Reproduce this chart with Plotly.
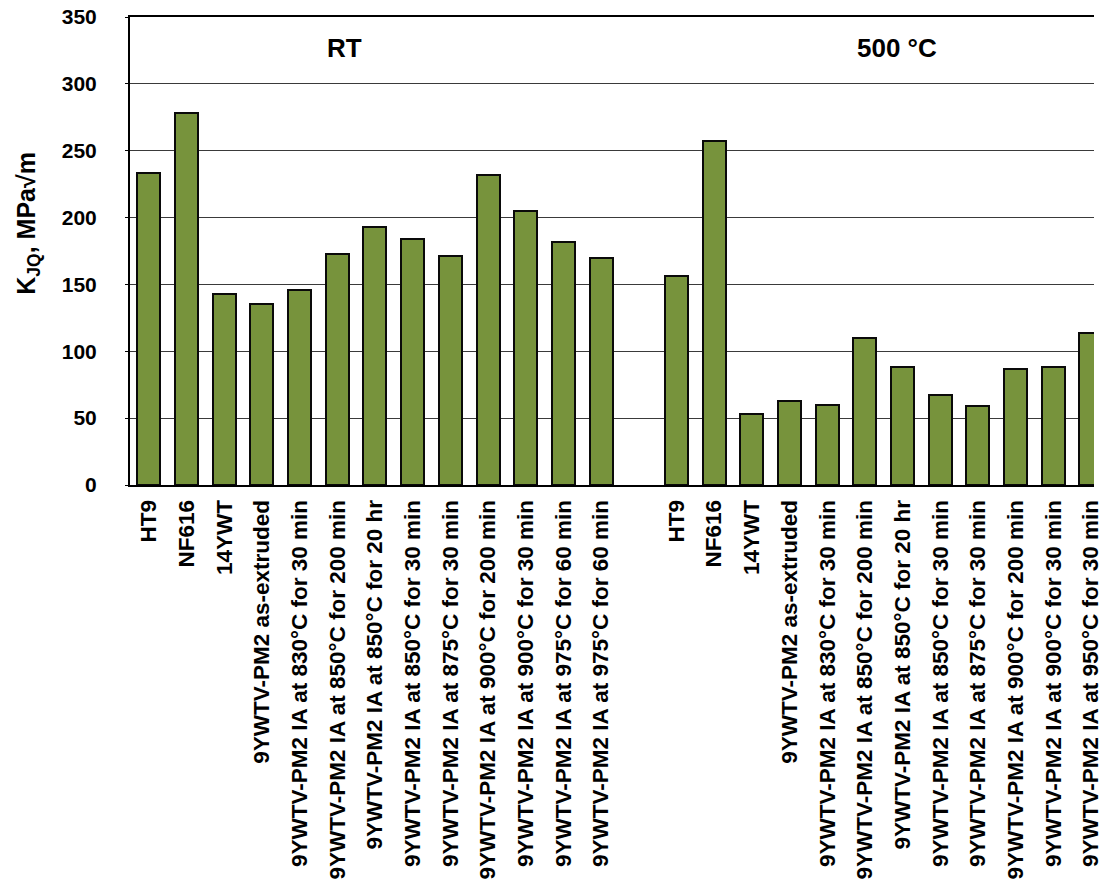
import plotly.graph_objects as go

# Fracture toughness K_JQ (MPa·√m) measured at room temperature and at 500 °C
rt_labels = [
    "HT9",
    "NF616",
    "14YWT",
    "9YWTV-PM2 as-extruded",
    "9YWTV-PM2 IA at 830°C for 30 min",
    "9YWTV-PM2 IA at 850°C for 200 min",
    "9YWTV-PM2 IA at 850°C for 20 hr",
    "9YWTV-PM2 IA at 850°C for 30 min",
    "9YWTV-PM2 IA at 875°C for 30 min",
    "9YWTV-PM2 IA at 900°C for 200 min",
    "9YWTV-PM2 IA at 900°C for 30 min",
    "9YWTV-PM2 IA at 975°C for 60 min",
    "9YWTV-PM2 IA at 975°C for 60 min",
]
rt_values = [233, 278, 143, 135, 146, 173, 193, 184, 171, 232, 205, 182, 170]

ht_labels = [
    "HT9",
    "NF616",
    "14YWT",
    "9YWTV-PM2 as-extruded",
    "9YWTV-PM2 IA at 830°C for 30 min",
    "9YWTV-PM2 IA at 850°C for 200 min",
    "9YWTV-PM2 IA at 850°C for 20 hr",
    "9YWTV-PM2 IA at 850°C for 30 min",
    "9YWTV-PM2 IA at 875°C for 30 min",
    "9YWTV-PM2 IA at 900°C for 200 min",
    "9YWTV-PM2 IA at 900°C for 30 min",
    "9YWTV-PM2 IA at 950°C for 30 min",
]
ht_values = [156, 257, 53, 63, 60, 110, 88, 67, 59, 87, 88, 114]

group_titles = ["RT", "500 °C"]
y_ticks = [0, 50, 100, 150, 200, 250, 300, 350]

# One empty slot separates the two temperature groups
rt_x = list(range(len(rt_values)))
ht_x = [len(rt_values) + 1 + i for i in range(len(ht_values))]
all_x = rt_x + ht_x
all_y = rt_values + ht_values
all_labels = rt_labels + ht_labels

FONT = "Liberation Sans, Arial, sans-serif"
BAR_COLOR = "#77933C"

fig = go.Figure()
fig.add_trace(go.Bar(
    x=all_x,
    y=all_y,
    width=0.61,
    marker=dict(color=BAR_COLOR, line=dict(color="#0a0a0a", width=2)),
    showlegend=False,
    hoverinfo="y",
))

fig.update_layout(
    width=1103,
    height=885,
    margin=dict(l=130, r=0, t=17, b=400),
    paper_bgcolor="white",
    plot_bgcolor="white",
    font=dict(family=FONT, color="black"),
    bargap=0,
)

fig.update_xaxes(
    range=[-0.5, 25.08],
    tickmode="array",
    tickvals=all_x,
    ticktext=all_labels,
    tickangle=-90,
    tickfont=dict(family=FONT, size=22.5, color="black", weight="bold"),
    ticks="",
    ticklabelstandoff=4,
    ticklabeloverflow="allow",
    showline=True,
    linecolor="black",
    linewidth=2,
    mirror=True,
    showgrid=False,
    zeroline=False,
)

fig.update_yaxes(
    range=[0, 350],
    tickmode="array",
    tickvals=y_ticks,
    tickfont=dict(family=FONT, size=21, color="black", weight="bold"),
    ticks="outside",
    ticklen=3,
    tickcolor="black",
    ticklabelstandoff=24,
    showline=True,
    linecolor="black",
    linewidth=2,
    showgrid=True,
    gridcolor="#3a3a3a",
    gridwidth=1,
    zeroline=False,
)

# Group headings and y-axis title
fig.add_annotation(x=5.2, y=327, xref="x", yref="y", text=group_titles[0],
                   showarrow=False, font=dict(family=FONT, size=26, weight="bold"))
fig.add_annotation(x=19.85, y=327, xref="x", yref="y", text=group_titles[1],
                   showarrow=False, font=dict(family=FONT, size=26, weight="bold"))
fig.add_annotation(x=-0.106, y=0.56, xref="paper", yref="paper",
                   text="K<sub>JQ</sub>, MPa√m", textangle=-90,
                   showarrow=False, xanchor="center", yanchor="middle",
                   font=dict(family=FONT, size=25, weight="bold"))

fig.write_html("out.html")
